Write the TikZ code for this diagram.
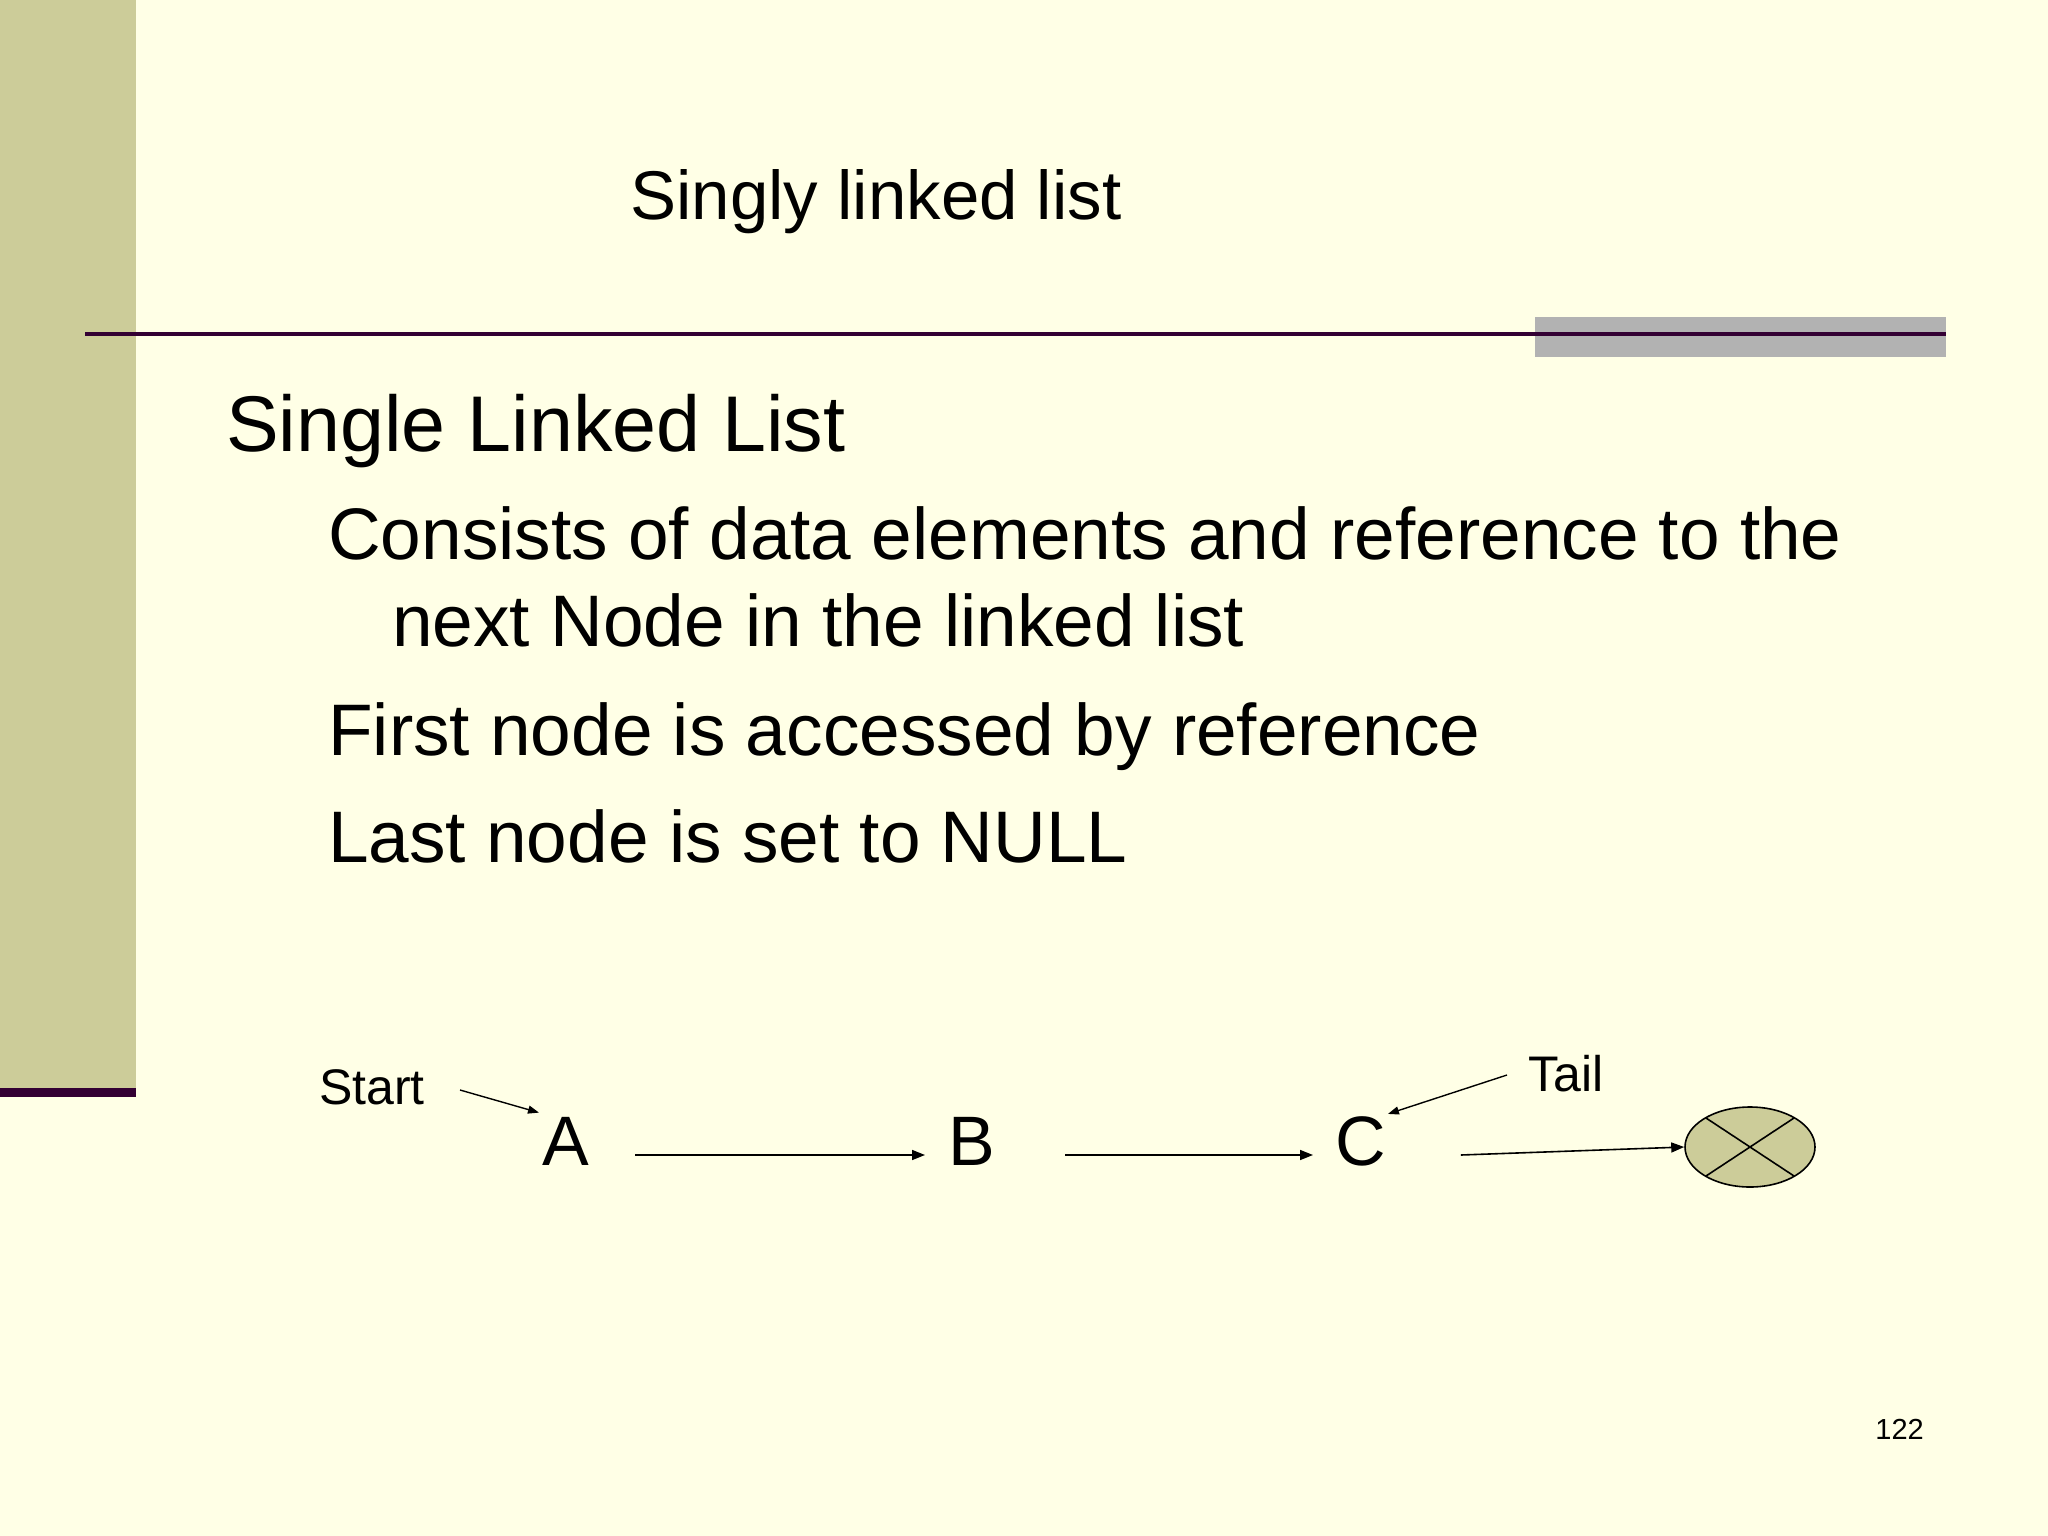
\documentclass[tikz,border=0pt]{standalone}
\usepackage{fontspec}
\setmainfont{Liberation Sans}
\usetikzlibrary{arrows.meta,shapes.geometric,calc}
\definecolor{bg}{HTML}{FFFFE6}
\definecolor{barc}{HTML}{CCCC99}
\definecolor{darkp}{HTML}{330033}
\definecolor{greyb}{HTML}{B2B2B2}
\begin{document}
\begin{tikzpicture}[x=1pt,y=-1pt,
  txt/.style={inner sep=0pt,anchor=base west},
  link/.style={line width=1.6pt,-{Triangle[length=13pt,width=10pt]}},
  ptr/.style={line width=1.4pt,-{Triangle[length=11pt,width=8pt]}}]
\useasboundingbox (0,0) rectangle (2048,1536);
\fill[bg] (0,0) rectangle (2048,1536);
\fill[barc] (0,0) rectangle (136,1088);
\fill[darkp] (0,1088) rectangle (136,1097);
\fill[greyb] (1535,317) rectangle (1946,357);
\draw[darkp,line width=4pt] (85,334) -- (1946,334);
\node[inner sep=0pt,anchor=base] (title) at (876,219) {\fontsize{69}{80}\selectfont Singly linked list};
\node[txt] (h1) at (226,451) {\fontsize{79}{90}\selectfont Single Linked List};
\node[txt] (b1) at (328,559) {\fontsize{73}{84}\selectfont Consists of data elements and reference to the};
\node[txt] (b1b) at (392,646) {\fontsize{73}{84}\selectfont next Node in the linked list};
\node[txt] (b2) at (328,755) {\fontsize{73}{84}\selectfont First node is accessed by reference};
\node[txt] (b3) at (328,862) {\fontsize{73}{84}\selectfont Last node is set to NULL};
\node[txt] (start) at (319,1104) {\fontsize{50}{60}\selectfont Start};
\node[txt] (tail) at (1528,1091) {\fontsize{50}{60}\selectfont Tail};
\node[txt] (A) at (542,1165) {\fontsize{70}{80}\selectfont A};
\node[txt] (B) at (948,1165) {\fontsize{70}{80}\selectfont B};
\node[txt] (C) at (1335,1165) {\fontsize{70}{80}\selectfont C};
\node[txt,anchor=base east] (pg) at (1924,1439) {\fontsize{29}{34}\selectfont 122};
\node[draw,ellipse,fill=barc,line width=1.6pt,minimum width=130pt,minimum height=80pt,inner sep=0pt] (null) at (1750,1147) {};
\draw[line width=1.6pt] ($(null.center)+(-44,-29)$) -- ($(null.center)+(44,29)$);
\draw[line width=1.6pt] ($(null.center)+(-44,29)$) -- ($(null.center)+(44,-29)$);
\coordinate (sA) at (460,1090);
\coordinate (tA) at (1507,1075);
\draw[ptr] (sA) -- ($(A.north west)+(-3,-4)$);
\draw[ptr] (tA) -- ($(C.north east)+(2,-2)$);
\draw[link] ($(A.base east)+(46,-10)$) -- ($(B.base west)+(-23,-10)$);
\draw[link] ($(B.base east)+(70,-10)$) -- ($(C.base west)+(-22,-10)$);
\draw[link] ($(C.base east)+(75,-10)$) -- (null.west);
\end{tikzpicture}
\end{document}
